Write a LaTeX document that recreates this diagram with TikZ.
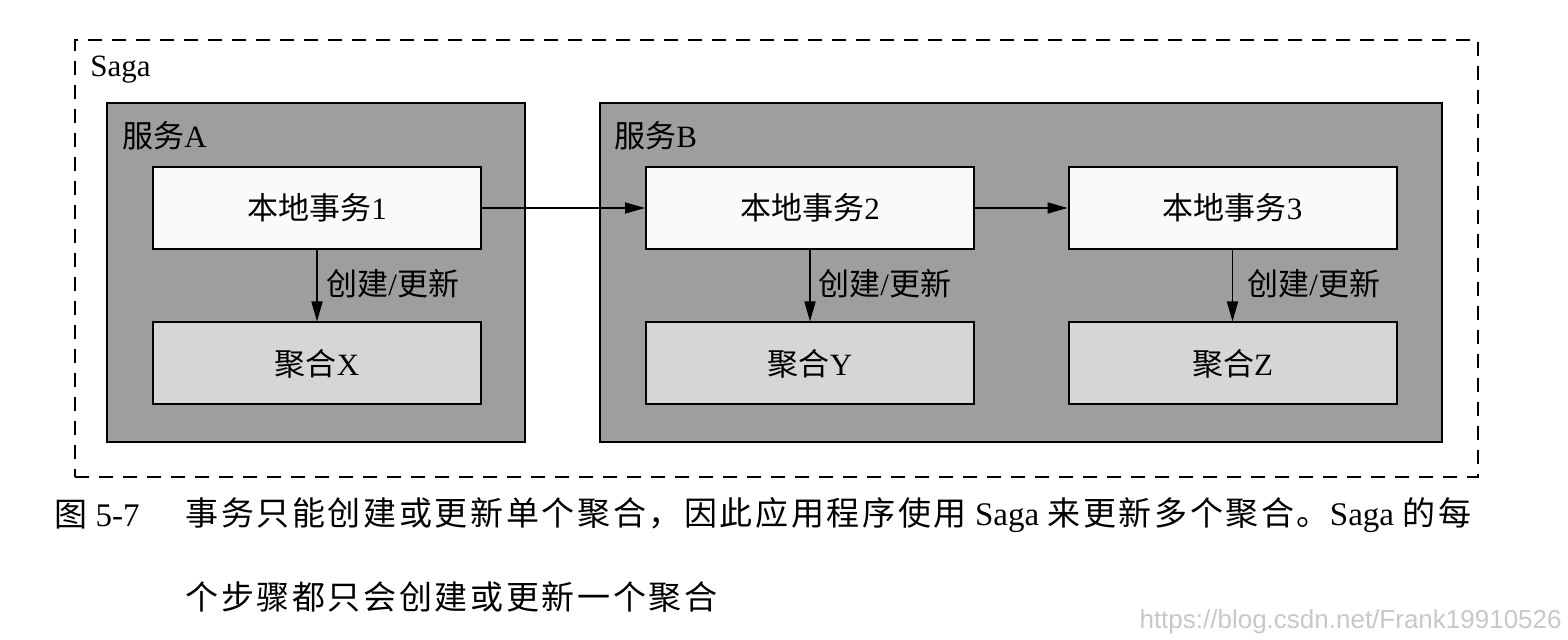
\documentclass[tikz,border=0pt]{standalone}
\usepackage{fontspec}
\setmainfont{Liberation Serif}
\newfontfamily\cjk{Noto Sans CJK SC}
\newfontfamily\cjkcap[LetterSpace=8]{Noto Sans CJK SC}
\newfontfamily\wmfont{Liberation Sans}
\usetikzlibrary{arrows.meta}
\definecolor{svcgray}{RGB}{158,158,158}
\definecolor{agggray}{RGB}{214,214,214}
\definecolor{txwhite}{RGB}{250,250,250}
\definecolor{wmgray}{RGB}{200,200,200}
\tikzset{
  svcbox/.style={draw=black, line width=1pt, fill=svcgray, inner sep=0pt, minimum height=169.5pt},
  txbox/.style={draw=black, line width=1pt, fill=txwhite, inner sep=0pt, minimum width=164pt, minimum height=41pt, font=\fontsize{15.5}{18}\selectfont},
  aggbox/.style={draw=black, line width=1pt, fill=agggray, inner sep=0pt, minimum width=164pt, minimum height=41pt, font=\fontsize{15.5}{18}\selectfont},
  lbl/.style={anchor=west, inner sep=0pt, font=\fontsize{15.5}{18}\selectfont},
  conn/.style={line width=0.8pt, -{Triangle[length=10pt,width=5.5pt]}},
}
\begin{document}
\begin{tikzpicture}[x=0.5pt,y=-0.5pt]
\useasboundingbox[fill=white] (0,0) rectangle (1568,640);
% outer Saga frame
\node[draw=black, line width=1pt, dash pattern=on 7pt off 5pt, minimum width=701.5pt, minimum height=218.5pt, inner sep=0pt] (saga) at (776.5,258.5) {};
\node[lbl] (sagalbl) at (90,70) {Saga};
% services
\node[svcbox, minimum width=209pt] (svcA) at (316,272.5) {};
\node[svcbox, minimum width=421pt] (svcB) at (1021,272.5) {};
\node[lbl] (svcAlbl) at (122,136) {{\cjk 服务}A};
\node[lbl] (svcBlbl) at (614,136) {{\cjk 服务}B};
% local transactions
\node[txbox] (tx1) at (317,208) {{\cjk 本地事务}1};
\node[txbox] (tx2) at (810,208) {{\cjk 本地事务}2};
\node[txbox] (tx3) at (1232.5,208) {{\cjk 本地事务}3};
% aggregates
\node[aggbox] (aggX) at (317,363.5) {{\cjk 聚合}X};
\node[aggbox] (aggY) at (810,363.5) {{\cjk 聚合}Y};
\node[aggbox] (aggZ) at (1232.5,363.5) {{\cjk 聚合}Z};
% connectors
\draw[conn] (tx1) -- (tx2);
\draw[conn] (tx2) -- (tx3);
\draw[conn] (tx1) -- (aggX);
\draw[conn] (tx2) -- (aggY);
\draw[conn] (tx3) -- (aggZ);
\node[lbl] (l1) at (326,284) {{\cjk 创建}/{\cjk 更新}};
\node[lbl] (l2) at (818,284) {{\cjk 创建}/{\cjk 更新}};
\node[lbl] (l3) at (1247,284) {{\cjk 创建}/{\cjk 更新}};
% caption
\node[anchor=west, inner sep=0pt, font=\fontsize{16.5}{20}\selectfont] (capnum) at (54,515) {{\cjk 图} 5-7};
\node[anchor=west, inner sep=0pt, font=\fontsize{16.5}{20}\selectfont] (cap1) at (185,515) {{\cjkcap 事务只能创建或更新单个聚合，因此应用程序使用} Saga {\cjkcap 来更新多个聚合。}Saga {\cjkcap 的每}};
\node[anchor=west, inner sep=0pt, font=\fontsize{16.5}{20}\selectfont] (cap2) at (185,597) {{\cjkcap 个步骤都只会创建或更新一个聚合}};
% watermark
\node[anchor=east, inner sep=0pt, text=wmgray, font=\wmfont\fontsize{13}{15}\selectfont] (wm) at (1562,622) {https://blog.csdn.net/Frank19910526};
\end{tikzpicture}
\end{document}
